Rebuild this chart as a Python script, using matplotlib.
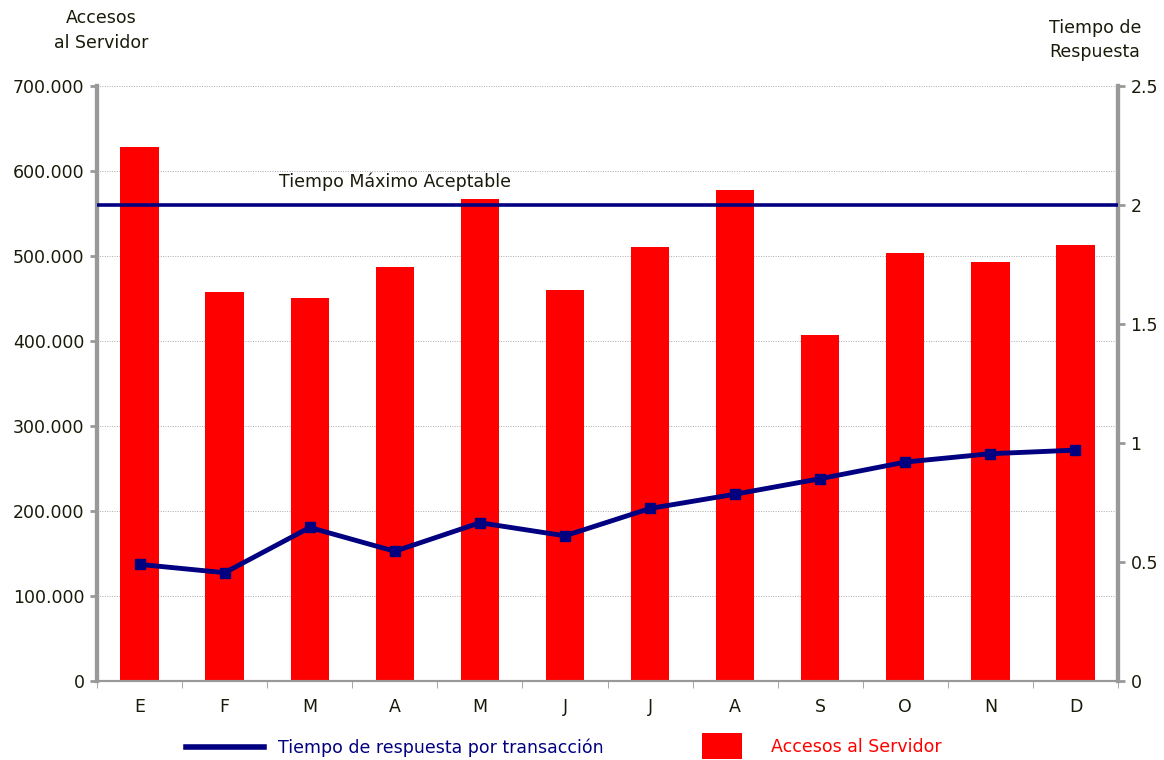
import numpy as np
import matplotlib.pyplot as plt
from matplotlib.lines import Line2D
from matplotlib.patches import Patch

meses = ['E', 'F', 'M', 'A', 'M', 'J', 'J', 'A', 'S', 'O', 'N', 'D']
accesos = [628000, 458000, 451000, 487000, 567000, 460000,
           511000, 578000, 407000, 504000, 493000, 513000]
tiempo = [0.49, 0.455, 0.645, 0.545, 0.665, 0.61,
          0.725, 0.785, 0.85, 0.92, 0.955, 0.97]
tiempo_max = 2.0

rojo = '#ff0000'
azul = '#000080'
gris = '#999999'
texto = '#1a1a0a'

fig = plt.figure(figsize=(11.64, 7.6), dpi=100)
ax = fig.add_axes([97/1164, 1-681/760, (1118-97)/1164, (681-86)/760])
ax2 = ax.twinx()

x = np.arange(len(meses))
ax.bar(x, accesos, width=0.45, color=rojo, zorder=2)
ax.set_ylim(0, 700000)
ax.set_xlim(-0.5, len(meses) - 0.5)
ax.set_yticks(np.arange(0, 700001, 100000))
ax.set_yticklabels(['0'] + ['%d.000' % (v // 1000) for v in range(100000, 700001, 100000)])
ax.yaxis.grid(True, linestyle=(0, (1, 1.5)), color='#aaaaaa', linewidth=0.7, zorder=0)
ax.set_axisbelow(True)
ax.set_xticks(x)
ax.set_xticklabels(meses)
ax.set_xticks(np.arange(-0.5, len(meses), 1), minor=True)
ax.tick_params(axis='x', which='major', length=0, pad=12, labelsize=12.5)
ax.tick_params(axis='x', which='minor', length=5, color=gris)
ax.tick_params(axis='y', length=5, color=gris, width=2, labelsize=12.5, pad=4)

ax2.plot(x, tiempo, color=azul, linewidth=3.5, marker='s', markersize=7, zorder=3)
ax2.plot([-0.5, len(meses) - 0.5], [tiempo_max, tiempo_max], color=azul, linewidth=2.6, zorder=3)
ax2.text(3.0, tiempo_max + 0.06, 'Tiempo Máximo Aceptable', fontsize=12.5, color=texto,
         ha='center', va='bottom')
ax2.set_ylim(0, 2.5)
ax2.set_yticks([0, 0.5, 1, 1.5, 2, 2.5])
ax2.set_yticklabels(['0', '0.5', '1', '1.5', '2', '2.5'])
ax2.tick_params(axis='y', length=5, color=gris, width=2, labelsize=12.5, pad=4)

for a in (ax, ax2):
    a.spines['top'].set_visible(False)
    a.spines['left'].set_color(gris)
    a.spines['left'].set_linewidth(3)
    a.spines['right'].set_color(gris)
    a.spines['right'].set_linewidth(3)
    a.spines['bottom'].set_color(gris)
    a.spines['bottom'].set_linewidth(1.5)
    for lbl in a.get_yticklabels() + a.get_xticklabels():
        lbl.set_color(texto)

fig.text(101/1164, 1-18/760, 'Accesos', fontsize=12.5, ha='center', va='center', color=texto)
fig.text(101/1164, 1-43/760, 'al Servidor', fontsize=12.5, ha='center', va='center', color=texto)
fig.text(1095/1164, 1-28/760, 'Tiempo de', fontsize=12.5, ha='center', va='center', color=texto)
fig.text(1095/1164, 1-52/760, 'Respuesta', fontsize=12.5, ha='center', va='center', color=texto)

h1 = Line2D([], [], color=azul, linewidth=4)
h2 = Patch(facecolor=rojo, edgecolor='none')
leg1 = fig.legend([h1], ['Tiempo de respuesta por transacción'], loc='center left',
                  bbox_to_anchor=(170/1164, 1-748/760), frameon=False, fontsize=12.5,
                  handlelength=4.5, handletextpad=0.8)
for t in leg1.get_texts():
    t.set_color(azul)
leg2 = fig.legend([h2], ['Accesos al Servidor'], loc='center left',
                  bbox_to_anchor=(686/1164, 1-746/760), frameon=False, fontsize=12.5,
                  handlelength=2.3, handleheight=2.0, handletextpad=1.7)
for t in leg2.get_texts():
    t.set_color(rojo)

fig.savefig('out.png', dpi=100)
